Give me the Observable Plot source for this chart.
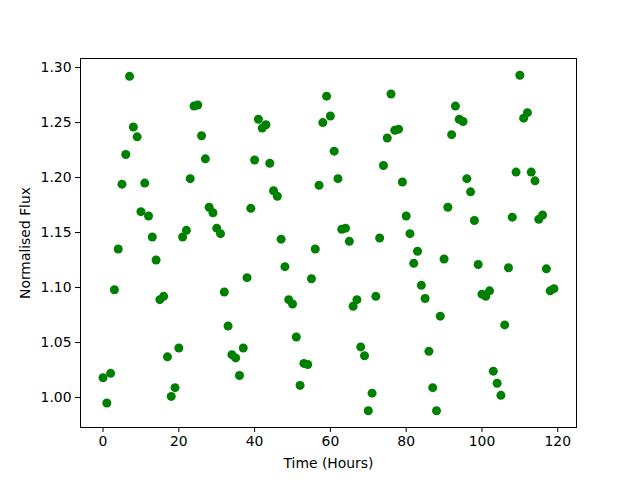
<!DOCTYPE html>
<html>
<head>
<meta charset="utf-8">
<script src="https://cdn.jsdelivr.net/npm/d3@7"></script>
<script src="https://cdn.jsdelivr.net/npm/@observablehq/plot@0.6"></script>
<style>
  html, body { margin: 0; padding: 0; background: #fff; }
  svg { display: block; }
</style>
</head>
<body>
<div id="chart"></div>
<script>
const hours = d3.range(0, 120);
const flux = [
  1.018, 0.995, 1.022, 1.098, 1.135, 1.194, 1.221, 1.292, 1.246, 1.237,
  1.169, 1.195, 1.165, 1.146, 1.125, 1.089, 1.092, 1.037, 1.001, 1.009,
  1.045, 1.146, 1.152, 1.199, 1.265, 1.266, 1.238, 1.217, 1.173, 1.168,
  1.154, 1.149, 1.096, 1.065, 1.039, 1.036, 1.020, 1.045, 1.109, 1.172,
  1.216, 1.253, 1.245, 1.248, 1.213, 1.188, 1.183, 1.144, 1.119, 1.089,
  1.085, 1.055, 1.011, 1.031, 1.030, 1.108, 1.135, 1.193, 1.250, 1.274,
  1.256, 1.224, 1.199, 1.153, 1.154, 1.142, 1.083, 1.089, 1.046, 1.038,
  0.988, 1.004, 1.092, 1.145, 1.211, 1.236, 1.276, 1.243, 1.244, 1.196,
  1.165, 1.149, 1.122, 1.133, 1.102, 1.090, 1.042, 1.009, 0.988, 1.074,
  1.126, 1.173, 1.239, 1.265, 1.253, 1.251, 1.199, 1.187, 1.161, 1.121,
  1.094, 1.092, 1.097, 1.024, 1.013, 1.002, 1.066, 1.118, 1.164, 1.205,
  1.293, 1.254, 1.259, 1.205, 1.197, 1.162, 1.166, 1.117, 1.097, 1.099
];
const xTicks = [0, 20, 40, 60, 80, 100, 120];
const yTicks = [1.00, 1.05, 1.10, 1.15, 1.20, 1.25, 1.30];
const xLabel = "Time (Hours)";
const yLabel = "Normalised Flux";

const data = hours.map((h, i) => ({h, f: flux[i]}));
const xr = d3.extent(hours), yr = d3.extent(flux);
const xm = (xr[1] - xr[0]) * 0.05, ym = (yr[1] - yr[0]) * 0.05;

const chart = Plot.plot({
  width: 640,
  height: 480,
  marginLeft: 80,
  marginRight: 64,
  marginTop: 58,
  marginBottom: 53,
  style: {fontFamily: "DejaVu Sans", fontSize: "13.9px", color: "#000", background: "#fff"},
  x: {domain: [xr[0] - xm, xr[1] + xm]},
  y: {domain: [yr[0] - ym, yr[1] + ym]},
  marks: [
    Plot.frame({stroke: "#000", strokeWidth: 1}),
    Plot.axisX({ticks: xTicks, tickSize: 5, tickPadding: 4, tickFormat: d3.format("d"),
      label: xLabel, labelAnchor: "center", labelArrow: "none", labelOffset: 40, fontSize: 13.9}),
    Plot.axisY({ticks: yTicks, tickSize: 5, tickPadding: 4, tickFormat: d3.format(".2f"),
      label: yLabel, labelAnchor: "center", labelArrow: "none", labelOffset: 60, fontSize: 13.9}),
    Plot.dot(data, {x: "h", y: "f", r: 4.5, fill: "#008000", stroke: "none"})
  ]
});
document.getElementById("chart").appendChild(chart);
</script>
</body>
</html>
